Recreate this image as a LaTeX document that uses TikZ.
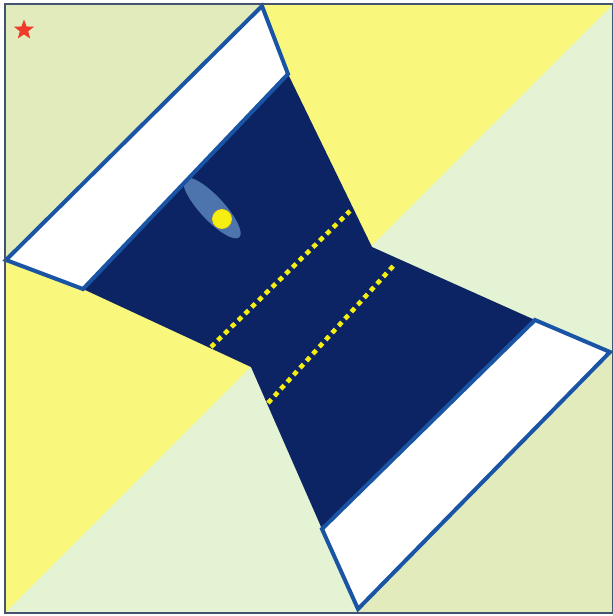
\documentclass[tikz,border=0pt]{standalone}
\usetikzlibrary{shapes.geometric}
\definecolor{bgolive}{HTML}{E1EBBB}
\definecolor{bggreen}{HTML}{E3F3D3}
\definecolor{bgyellow}{HTML}{F9F77C}
\definecolor{navy}{HTML}{0C2463}
\definecolor{bandblue}{HTML}{1A55A5}
\definecolor{ellblue}{HTML}{4D74AC}
\definecolor{dotyellow}{HTML}{F4EF10}
\definecolor{framecol}{HTML}{44536F}
\definecolor{starred}{HTML}{EE3B2B}
\tikzset{
  band/.style={fill=white, draw=bandblue, line width=4pt, line join=miter},
  dotline/.style={draw=dotyellow, line width=4.6pt, dash pattern=on 5pt off 4.5pt},
}
\begin{document}
\begin{tikzpicture}[x=1pt,y=-1pt]
\useasboundingbox (0,0) rectangle (613,616);
\fill[white] (0,0) rectangle (613,616);
% frame corners
\coordinate (F1) at (5,4);
\coordinate (F2) at (613,4);
\coordinate (F3) at (613,613);
\coordinate (F4) at (5,613);
% background
\fill[bggreen] (F1) rectangle (F3);
\fill[bgyellow] (F1) -- (F2) -- (F4) -- cycle;
\fill[bgolive] (F1) -- (266,4) -- (5,264) -- cycle;
\fill[bgolive] (F3) -- (613,349) -- (355,613) -- cycle;
% hourglass points
\coordinate (A1) at (6,260);
\coordinate (A2) at (262,6);
\coordinate (A3) at (288,74);
\coordinate (A4) at (83,289);
\coordinate (N1) at (372,247);
\coordinate (N2) at (251,367);
\coordinate (B1) at (610,352);
\coordinate (B2) at (358,609);
\coordinate (B3) at (322,529);
\coordinate (B4) at (535,320);
% navy body
\fill[navy] (A3) -- (N1) -- (B4) -- (B3) -- (N2) -- (A4) -- cycle;
% highlight
\fill[ellblue, rotate around={-47:(212,208)}] (212,208) ellipse (40 and 12);
\filldraw[fill=dotyellow, draw=yellow!80!orange, line width=0.8pt] (222,219) circle (9.5);
% dotted lines
\coordinate (D1) at (211,347);
\coordinate (D2) at (350,211);
\coordinate (D3) at (268,403);
\coordinate (D4) at (396,263);
\draw[dotline] (D1) -- (D2);
\draw[dotline] (D3) -- (D4);
% white bands
\draw[band] (A1) -- (A2) -- (A3) -- (A4) -- cycle;
\draw[band] (B1) -- (B2) -- (B3) -- (B4) -- cycle;
% frame
\draw[framecol, line width=1.8pt] (F1) rectangle (F3);
% star
\node[star, star points=5, star point ratio=2.4, fill=starred, inner sep=0pt, minimum size=21pt] (star1) at (24,30) {};
\end{tikzpicture}
\end{document}
